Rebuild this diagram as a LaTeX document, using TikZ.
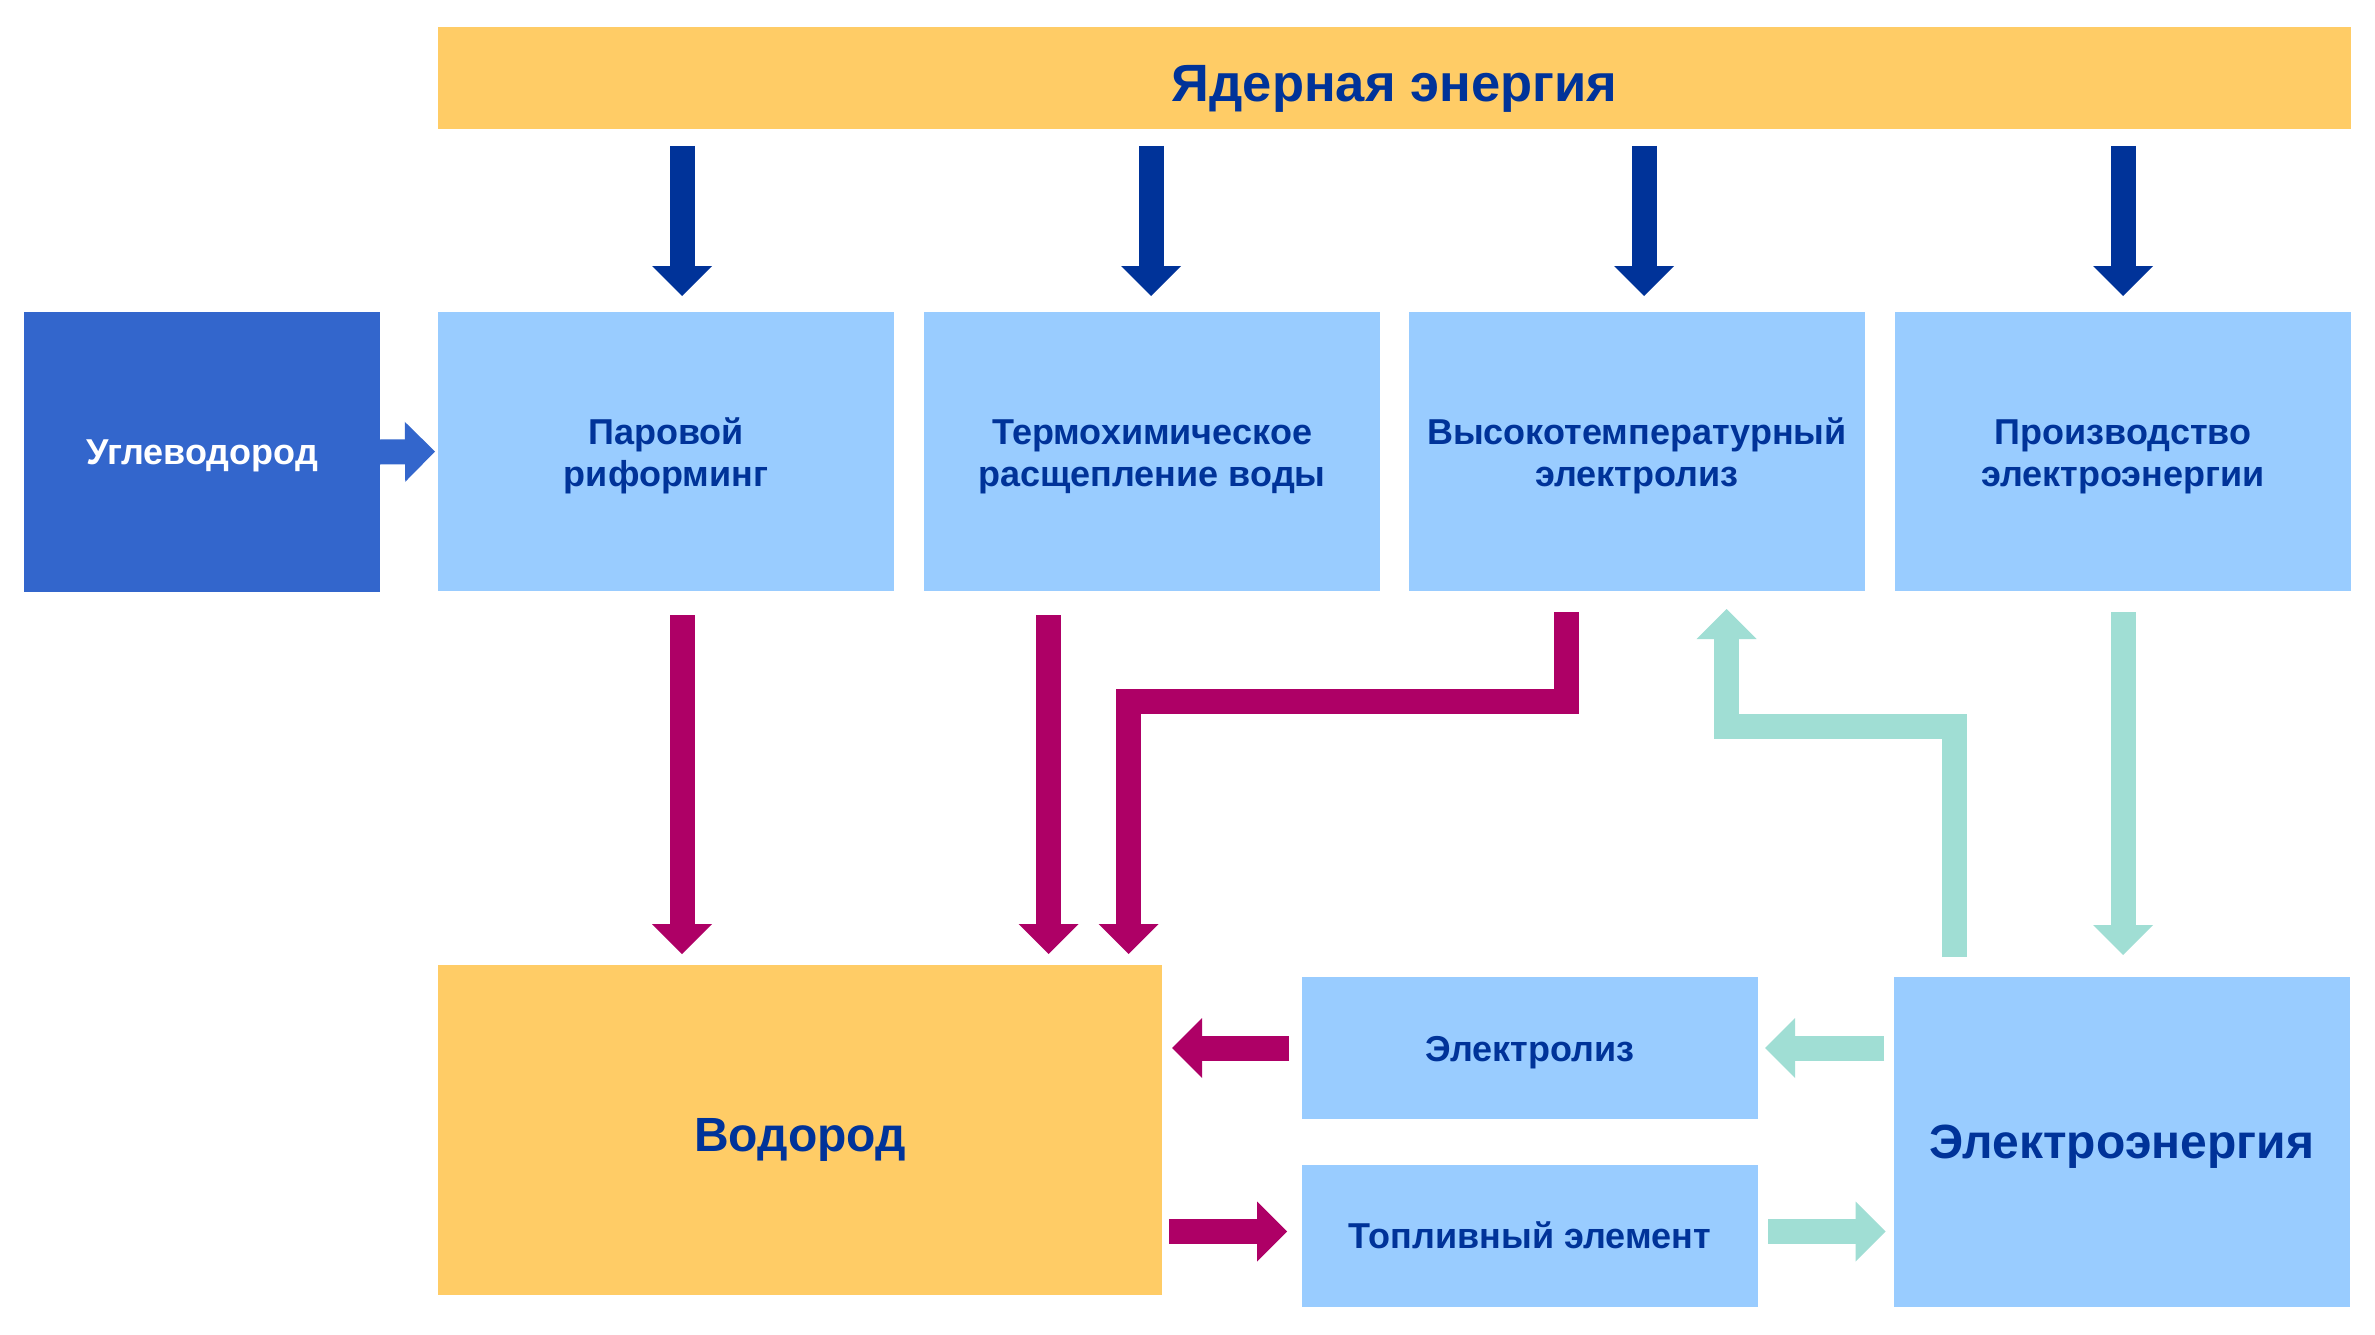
\documentclass[tikz,border=0pt]{standalone}
\usepackage{fontspec}
\setmainfont{Liberation Sans}
\usetikzlibrary{arrows.meta}
\definecolor{ylw}{HTML}{FFCC66}
\definecolor{lblue}{HTML}{99CCFF}
\definecolor{dblue}{HTML}{3366CC}
\definecolor{txtblue}{HTML}{003399}
\definecolor{mag}{HTML}{AE0066}
\definecolor{tealc}{HTML}{A0DED4}
\newcommand\boxfont{\fontsize{36}{42}\selectfont\bfseries}
\newcommand\bigfont{\fontsize{48}{54}\selectfont\bfseries}
\newcommand\titlefont{\fontsize{52.5}{60}\selectfont\bfseries}
\newcommand\topstrut{\rule{0pt}{36pt}}
\begin{document}
\begin{tikzpicture}[x=1pt,y=-1pt,
  box/.style={rectangle, inner sep=0pt, outer sep=0pt, anchor=north west, align=center, text=txtblue, font=\boxfont},
  lbox/.style={box, fill=lblue},
  ybox/.style={box, fill=ylw},
  procbox/.style={lbox, minimum width=456pt, minimum height=279pt},
  smallbox/.style={lbox, minimum width=456pt, minimum height=142pt},
  blk/.style={line width=25pt, line cap=butt, line join=miter, -{Triangle[width=60pt,length=30pt,line width=0pt]}},
  bluearr/.style={blk, draw=txtblue},
  hcarr/.style={blk, draw=dblue},
  magarr/.style={blk, draw=mag},
  tealarr/.style={blk, draw=tealc}
]
\useasboundingbox (0,0) rectangle (2375,1335);
\fill[white] (0,0) rectangle (2375,1335);

% boxes
\node[ybox, minimum width=1913pt, minimum height=102pt, font=\titlefont, text height=47pt, text depth=0pt] (nuc) at (438,27) {Ядерная энергия};
\node[box, fill=dblue, text=white, minimum width=356pt, minimum height=280pt, text height=25pt, text depth=0pt] (hc) at (24,312) {Углеводород};
\node[procbox] (b1) at (438,312) {\topstrut Паровой\\риформинг};
\node[procbox] (b2) at (924,312) {\topstrut Термохимическое\\расщепление воды};
\node[procbox] (b3) at (1409,312) {\topstrut Высокотемпературный\\электролиз};
\node[procbox] (b4) at (1895,312) {\topstrut Производство\\электроэнергии};
\node[ybox, minimum width=724pt, minimum height=330pt, font=\bigfont, text height=43.4pt, text depth=0pt] (h2) at (438,965) {Водород};
\node[smallbox, text height=27.4pt, text depth=0pt] (el) at (1302,977) {Электролиз};
\node[smallbox, text height=24.6pt, text depth=0pt] (fc) at (1302,1165) {Топливный элемент};
\node[lbox, minimum width=456pt, minimum height=330pt, font=\bigfont, text height=32pt, text depth=0pt] (ee) at (1894,977) {Электроэнергия};

% helper coordinates
\coordinate (n1) at ([xshift=16pt]b1.north);
\coordinate (n2) at ([xshift=-1pt]b2.north);
\coordinate (n3) at ([xshift=7pt]b3.north);
\coordinate (n4) at (b4.north);
\coordinate (s1) at ([xshift=16pt]b1.south);
\coordinate (s2) at ([xshift=-103.5pt]b2.south);
\coordinate (s3) at ([xshift=-70.6pt]b3.south);
\coordinate (k1) at (1128.5,701.5);
\coordinate (e1) at ([xshift=-168pt]ee.north);
\coordinate (k2) at (1726.6,726.5);
\coordinate (s4) at (b4.south);
\coordinate (f1) at ([yshift=4.5pt]fc.west);
\coordinate (f2) at ([yshift=4.5pt]fc.east);

% nuclear energy arrows
\draw[bluearr, shorten <=17pt, shorten >=16pt] (n1 |- nuc.south) -- (n1);
\draw[bluearr, shorten <=17pt, shorten >=16pt] (n2 |- nuc.south) -- (n2);
\draw[bluearr, shorten <=17pt, shorten >=16pt] (n3 |- nuc.south) -- (n3);
\draw[bluearr, shorten <=17pt, shorten >=16pt] (n4 |- nuc.south) -- (n4);

% hydrocarbon
\draw[hcarr, shorten >=3pt] (hc.east) -- (b1.west);

% hydrogen production
\draw[magarr, shorten <=24pt, shorten >=11pt] (s1) -- (s1 |- h2.north);
\draw[magarr, shorten <=24pt, shorten >=11pt] (s2) -- (s2 |- h2.north);
\draw[magarr, shorten <=21pt, shorten >=11pt] (s3) |- (k1) -- (k1 |- h2.north);

% electricity
\draw[tealarr, shorten <=20pt, shorten >=18pt] (e1) |- (k2) -- (k2 |- b3.south);
\draw[tealarr, shorten <=21pt, shorten >=22pt] (s4) -- (s4 |- ee.north);

% bottom loop
\draw[tealarr, shorten <=10pt, shorten >=7pt] (el.east -| ee.west) -- (el.east);
\draw[magarr, shorten <=13pt, shorten >=10pt] (el.west) -- (el.west -| h2.east);
\draw[magarr, shorten <=7pt, shorten >=15pt] (f1 -| h2.east) -- (f1);
\draw[tealarr, shorten <=10pt, shorten >=8.5pt] (f2) -- (f2 -| ee.west);
\end{tikzpicture}
\end{document}
